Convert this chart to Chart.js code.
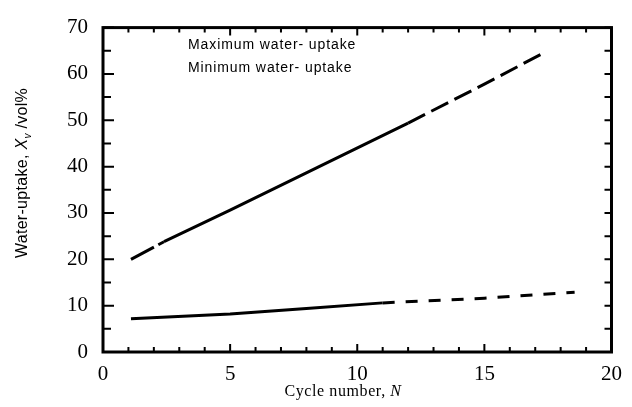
<!DOCTYPE html>
<html>
<head>
<meta charset="utf-8">
<script src="https://cdn.jsdelivr.net/npm/chart.js@4/dist/chart.umd.min.js"></script>
<style>
  html, body { margin: 0; padding: 0; background: #fff; }
  #wrap { width: 632px; height: 407px; position: relative; }
</style>
</head>
<body>
<div id="wrap"><canvas id="chart"></canvas></div>
<script>
// values
const maxCycles = [1.1, 2.4, 5, 8.5, 12, 15, 17.35];
const maxUptake = [20, 23.8, 30.6, 40, 49.4, 57.8, 64.6];
const minCycles = [1.1, 5, 8, 11, 15, 18.55];
const minUptake = [7.2, 8.2, 9.4, 10.6, 11.6, 12.9];
const seriesLabels = ['Maximum water- uptake', 'Minimum water- uptake'];
const xTicks = [0, 5, 10, 15, 20];
const yTicks = [0, 10, 20, 30, 40, 50, 60, 70];

const toPoints = (xs, ys) => xs.map((x, i) => ({ x, y: ys[i] }));
const serif = '"Liberation Serif", "Times New Roman", serif';
const sans = '"Liberation Sans", Arial, sans-serif';

// frame, inward ticks, legend text and axis titles
const decor = {
  id: 'decor',
  afterDraw(chart) {
    const { ctx, chartArea: a, scales: { x, y } } = chart;
    ctx.save();
    ctx.strokeStyle = '#000';
    ctx.lineWidth = 2;
    for (let v = 0; v <= 20; v++) {
      const px = x.getPixelForValue(v);
      const len = v % 5 === 0 ? 8 : 5;
      ctx.beginPath();
      ctx.moveTo(px, a.bottom); ctx.lineTo(px, a.bottom - len);
      ctx.moveTo(px, a.top); ctx.lineTo(px, a.top + len);
      ctx.stroke();
    }
    for (let v = 0; v <= 70; v += 5) {
      const py = y.getPixelForValue(v);
      const len = v % 10 === 0 ? 11 : 8;
      ctx.beginPath();
      ctx.moveTo(a.left, py); ctx.lineTo(a.left + len, py);
      ctx.moveTo(a.right, py); ctx.lineTo(a.right - 7, py);
      ctx.stroke();
    }
    ctx.lineWidth = 3;
    ctx.strokeRect(a.left, a.top, a.right - a.left, a.bottom - a.top);

    // legend (text only)
    ctx.fillStyle = '#000';
    ctx.font = '14px ' + sans;
    ctx.letterSpacing = '0.9px';
    ctx.textAlign = 'left';
    ctx.textBaseline = 'alphabetic';
    ctx.fillText(seriesLabels[0], 188, 49);
    ctx.fillText(seriesLabels[1], 188, 72);

    // x title
    ctx.letterSpacing = '0.6px';
    const t1 = 'Cycle number, ';
    ctx.font = 'italic 16px ' + serif;
    const wN = ctx.measureText('N').width;
    ctx.font = '16px ' + serif;
    const w1 = ctx.measureText(t1).width;
    const sx = 343 - (w1 + wN) / 2;
    ctx.fillText(t1, sx, 396);
    ctx.font = 'italic 16px ' + serif;
    ctx.fillText('N', sx + w1, 396);

    // y title, rotated
    ctx.letterSpacing = '0.3px';
    ctx.save();
    ctx.translate(27, 173);
    ctx.rotate(-Math.PI / 2);
    const partA = 'Water-uptake, ';
    const partC = ' /vol%';
    ctx.font = '16px ' + sans;
    const wA = ctx.measureText(partA).width;
    const wC = ctx.measureText(partC).width;
    ctx.font = 'italic 16px ' + sans;
    const wX = ctx.measureText('X').width;
    ctx.font = 'italic 10px ' + sans;
    const wV = ctx.measureText('v').width;
    let cx = -(wA + wX + wV + wC) / 2;
    ctx.font = '16px ' + sans;
    ctx.fillText(partA, cx, 0); cx += wA;
    ctx.font = 'italic 16px ' + sans;
    ctx.fillText('X', cx, 0); cx += wX;
    ctx.font = 'italic 10px ' + sans;
    ctx.fillText('v', cx, 4); cx += wV;
    ctx.font = '16px ' + sans;
    ctx.fillText(partC, cx, 0);
    ctx.restore();
    ctx.restore();
  }
};

new Chart(document.getElementById('chart'), {
  type: 'line',
  data: {
    datasets: [
      {
        label: seriesLabels[0],
        data: toPoints(maxCycles, maxUptake),
        borderColor: '#000',
        borderWidth: 3,
        pointRadius: 0,
        segment: {
          borderDash: (c) => c.p0.parsed.x < 2.4 ? [26, 5] : c.p0.parsed.x >= 12 ? [19, 7] : [],
        },
      },
      {
        label: seriesLabels[1],
        data: toPoints(minCycles, minUptake),
        borderColor: '#000',
        borderWidth: 3,
        pointRadius: 0,
        segment: {
          borderDash: (c) => c.p0.parsed.x >= 11 ? [12, 11] : [],
        },
      },
    ],
  },
  options: {
    responsive: true,
    maintainAspectRatio: false,
    animation: false,
    layout: { padding: { top: 15, right: 16, left: 0, bottom: 0 } },
    plugins: { legend: { display: false }, tooltip: { enabled: false } },
    scales: {
      x: {
        type: 'linear',
        min: 0,
        max: 20,
        afterBuildTicks: (s) => { s.ticks = xTicks.map((v) => ({ value: v })); },
        afterFit: (s) => { s.height = 55; },
        grid: { display: false, drawTicks: false },
        border: { display: false },
        ticks: { color: '#000', padding: 10, font: { family: serif, size: 21 } },
      },
      y: {
        min: 0,
        max: 70,
        afterBuildTicks: (s) => { s.ticks = yTicks.map((v) => ({ value: v })); },
        afterFit: (s) => { s.width = 103; },
        grid: { display: false, drawTicks: false },
        border: { display: false },
        ticks: { color: '#000', padding: 15, font: { family: serif, size: 21 } },
      },
    },
  },
  plugins: [decor],
});
</script>
</body>
</html>
